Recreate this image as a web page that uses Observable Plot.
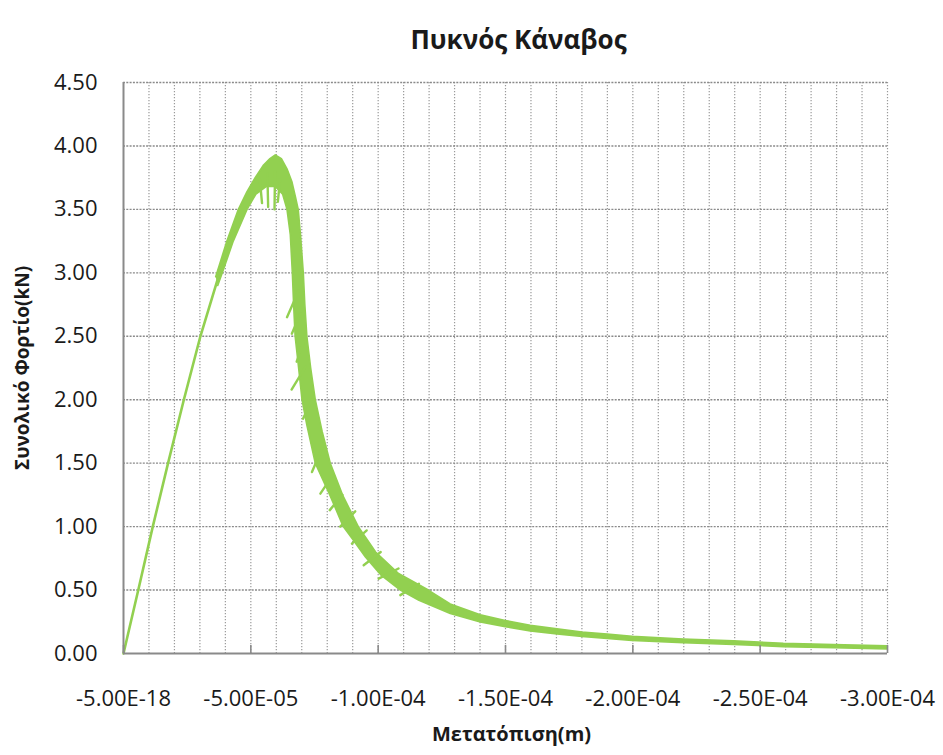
<!DOCTYPE html>
<html>
<head>
<meta charset="utf-8">
<script src="https://cdn.jsdelivr.net/npm/d3@7"></script>
<script src="https://cdn.jsdelivr.net/npm/@observablehq/plot@0.6"></script>
<style>
  html, body { margin: 0; padding: 0; background: #ffffff; }
  #chart { width: 943px; height: 755px; }
  #chart svg { display: block; }
</style>
</head>
<body>
<div id="chart"></div>
<script>
// Load–displacement curve (displacement in m, total load in kN)

// Initial elastic branch
const rampDisp = [0, -0.58e-5, -1.15e-5, -1.75e-5, -2.37e-5, -3.02e-5, -3.70e-5];
const rampLoad = [0, 0.50, 1.00, 1.50, 2.00, 2.50, 2.95];

// Scatter band of the oscillating solution: outer edge (over the peak, down to the tail)
const outerDisp = [-3.62e-5, -4.06e-5, -4.51e-5, -4.85e-5, -5.17e-5, -5.50e-5, -5.75e-5, -5.96e-5,
  -6.20e-5, -6.42e-5, -6.61e-5, -6.75e-5, -6.86e-5, -6.95e-5, -7.06e-5, -7.12e-5, -7.20e-5,
  -7.35e-5, -7.53e-5, -7.80e-5, -8.12e-5, -8.60e-5, -9.22e-5, -9.90e-5, -10.8e-5, -11.97e-5,
  -12.83e-5, -14.01e-5, -14.99e-5, -15.97e-5, -17.02e-5, -18.0e-5, -18.99e-5, -19.97e-5,
  -21.98e-5, -23.95e-5, -25.91e-5, -27.88e-5, -29.99e-5];
const outerLoad = [2.97, 3.25, 3.50, 3.64, 3.75, 3.85, 3.90, 3.93,
  3.90, 3.82, 3.72, 3.60, 3.50, 3.30, 3.00, 2.75, 2.50,
  2.25, 2.00, 1.75, 1.50, 1.25, 1.00, 0.80, 0.63, 0.50,
  0.39, 0.305, 0.26, 0.222, 0.195, 0.17, 0.154, 0.136,
  0.114, 0.100, 0.080, 0.070, 0.060];

// Inner edge of the band, from the tail back to the elastic branch
const innerDisp = [-29.99e-5, -27.88e-5, -25.91e-5, -23.95e-5, -21.98e-5, -19.97e-5, -18.99e-5,
  -18.0e-5, -17.02e-5, -15.97e-5, -14.99e-5, -14.01e-5, -12.83e-5, -11.6e-5,
  -10.87e-5, -10.1e-5, -9.5e-5, -9.0e-5, -8.63e-5, -8.1e-5, -7.53e-5, -7.2e-5, -7.01e-5,
  -6.85e-5, -6.74e-5, -6.68e-5, -6.63e-5, -6.55e-5, -6.42e-5, -6.25e-5, -5.96e-5,
  -5.6e-5, -5.2e-5, -4.85e-5, -4.31e-5, -3.88e-5, -3.70e-5];
const innerLoad = [0.036, 0.045, 0.054, 0.072, 0.086, 0.102, 0.118,
  0.135, 0.155, 0.178, 0.212, 0.248, 0.315, 0.42,
  0.50, 0.62, 0.76, 0.90, 1.00, 1.25, 1.50, 1.80, 2.00,
  2.30, 2.50, 2.75, 3.00, 3.30, 3.50, 3.62, 3.68,
  3.68, 3.62, 3.50, 3.25, 3.00, 2.90];

// Load drops hanging off the band: start (inside the band) and end of each drop
const dropDisp0 = [-5.35e-5, -5.65e-5, -5.95e-5, -6.15e-5, -6.88e-5, -6.95e-5, -7.08e-5, -7.15e-5,
  -7.40e-5, -7.80e-5, -8.20e-5, -8.60e-5, -9.10e-5, -9.55e-5, -10.1e-5, -10.8e-5, -11.6e-5];
const dropLoad0 = [3.74, 3.78, 3.80, 3.74, 2.86, 2.68, 2.46, 2.26,
  2.00, 1.62, 1.40, 1.25, 1.12, 0.97, 0.80, 0.67, 0.55];
const dropDisp1 = [-5.44e-5, -5.68e-5, -5.93e-5, -6.06e-5, -6.42e-5, -6.61e-5, -6.80e-5, -6.60e-5,
  -7.05e-5, -7.40e-5, -7.73e-5, -8.10e-5, -8.51e-5, -8.97e-5, -9.43e-5, -10.02e-5, -10.87e-5];
const dropLoad1 = [3.55, 3.52, 3.50, 3.56, 2.65, 2.52, 2.30, 2.08,
  1.85, 1.43, 1.26, 1.13, 1.00, 0.866, 0.695, 0.59, 0.46];

// Axes
const xTickValues = [0, -5e-5, -1e-4, -1.5e-4, -2e-4, -2.5e-4, -3e-4];
const xTickLabels = ["-5.00E-18", "-5.00E-05", "-1.00E-04", "-1.50E-04", "-2.00E-04", "-2.50E-04", "-3.00E-04"];
const yTickValues = [0, 0.5, 1, 1.5, 2, 2.5, 3, 3.5, 4, 4.5];
const yTickLabels = ["0.00", "0.50", "1.00", "1.50", "2.00", "2.50", "3.00", "3.50", "4.00", "4.50"];
const xMinorStep = 1e-5;

const title = "Πυκνός Κάναβος";
const xTitle = "Μετατόπιση(m)";
const yTitle = "Συνολικό Φορτίο(kN)";

const green = "#92D050";
const axisGrey = "#8a8a8a";
const font = "'Open Sans', sans-serif";

const ramp = rampDisp.map((d, i) => ({disp: d, load: rampLoad[i]}));
const band = outerDisp.map((d, i) => ({disp: d, load: outerLoad[i]}))
  .concat(innerDisp.map((d, i) => ({disp: d, load: innerLoad[i]})));
const drops = dropDisp0.map((d, i) => ({d0: d, l0: dropLoad0[i], d1: dropDisp1[i], l1: dropLoad1[i]}));
const minorGrid = d3.range(1, 31).map(i => -i * xMinorStep);
const xLabel = new Map(xTickValues.map((v, i) => [v, xTickLabels[i]]));
const yLabel = new Map(yTickValues.map((v, i) => [v, yTickLabels[i]]));

const chart = Plot.plot({
  width: 943,
  height: 755,
  marginLeft: 123,
  marginRight: 56,
  marginTop: 82,
  marginBottom: 102,
  style: {fontFamily: font, background: "#ffffff", color: "#1a1a1a"},
  x: {domain: [0, -3e-4]},
  y: {domain: [0, 4.5]},
  marks: [
    // dotted gridlines
    Plot.ruleX(minorGrid, {stroke: "#9a9a9a", strokeWidth: 1.2, strokeDasharray: "1.3,1.7"}),
    Plot.ruleY(yTickValues.slice(1), {stroke: "#8a8a8a", strokeWidth: 1.4, strokeDasharray: "2,1.3"}),
    // curve
    Plot.line(band, {x: "disp", y: "load", fill: green, stroke: green, strokeWidth: 1.6,
      strokeLinejoin: "round", curve: "linear"}),
    Plot.link(drops, {x1: "d0", y1: "l0", x2: "d1", y2: "l1", stroke: green, strokeWidth: 2.4,
      strokeLinecap: "round"}),
    Plot.line(ramp, {x: "disp", y: "load", stroke: green, strokeWidth: 2.6, strokeLinecap: "round"}),
    // axis lines
    Plot.ruleX([0], {stroke: axisGrey, strokeWidth: 2}),
    Plot.ruleY([0], {stroke: axisGrey, strokeWidth: 2}),
    // inner tick marks on the x axis
    Plot.axisX(xTickValues, {tickSize: 8, dy: -8, text: null, stroke: axisGrey, strokeWidth: 1.6, label: null}),
    // tick labels
    Plot.axisX(xTickValues, {tickSize: 0, tickPadding: 37, fontSize: 22, tickFormat: d => xLabel.get(d), label: null, fill: "#1a1a1a"}),
    Plot.axisY(yTickValues, {tickSize: 0, tickPadding: 26, fontSize: 22, tickFormat: d => yLabel.get(d), label: null, fill: "#1a1a1a"}),
    // titles
    Plot.text([title], {frameAnchor: "top", dx: 13, dy: -52, fontSize: 26, fontWeight: "bold", fill: "#1a1a1a"}),
    Plot.text([xTitle], {frameAnchor: "bottom", dx: 6, dy: 87, fontSize: 20, fontWeight: "bold", fill: "#1a1a1a"}),
    Plot.text([yTitle], {frameAnchor: "left", textAnchor: "middle", dx: -101, rotate: -90, fontSize: 19, fontWeight: "bold", fill: "#1a1a1a"})
  ]
});

document.getElementById("chart").appendChild(chart);
</script>
</body>
</html>
